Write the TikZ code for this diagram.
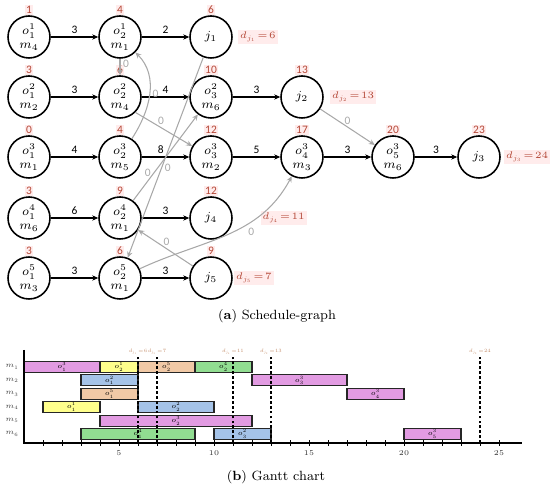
\RequirePackage{fix-cm}
\documentclass[tikz,border=0pt]{standalone}
\usepackage{amsmath}
\usepackage{fontspec}
\usepackage{tikz}
\usetikzlibrary{arrows.meta, positioning, calc}
\newfontfamily\calfont{Carlito}
\definecolor{redtime}{RGB}{180,72,55}
\definecolor{redback}{RGB}{255,236,236}
\definecolor{arcgray}{RGB}{168,168,168}
\definecolor{dtan}{RGB}{195,140,105}
\definecolor{jobA}{RGB}{255,255,140}
\definecolor{jobB}{RGB}{165,195,232}
\definecolor{jobC}{RGB}{226,155,226}
\definecolor{jobD}{RGB}{145,221,145}
\definecolor{jobE}{RGB}{241,201,166}
\newcommand{\ganttbar}[5]{%
    \draw[barbox, fill=#4] (#2, 6.26-#1) rectangle node[barlabel] {#5} (#3, 7.08-#1);
}
\newcommand{\due}[2]{$\thickmuskip=2mu d_{j_{#1}} = #2$}
\newcommand{\duetiny}[2]{$\thickmuskip=1mu d_{j_{#1}} = #2$}
\tikzset{
    opnode/.style={circle, draw, line width=0.9pt, minimum size=0.84cm, inner sep=0pt, align=center, font=\fontsize{7}{7.6}\selectfont},
    stime/.style={font=\calfont\fontsize{6.5}{7}\selectfont, text=redtime, fill=redback, inner sep=0.6pt},
    conj/.style={-{Stealth[length=3.4pt, width=3pt]}, line width=0.8pt},
    disj/.style={-{Stealth[length=3.4pt, width=3pt]}, draw=arcgray, line width=0.6pt},
    wlabel/.style={font=\calfont\fontsize{6.5}{7}\selectfont, inner sep=1.5pt},
    zlabel/.style={wlabel, text=arcgray},
    dlabel/.style={font=\fontsize{5.5}{6}\selectfont, text=redtime, fill=redback, inner sep=1pt},
    barbox/.style={draw=black!85, line width=0.6pt},
    barlabel/.style={font=\fontsize{4}{4}\selectfont, inner sep=0pt},
    deadline/.style={dash pattern=on 1.6pt off 1.2pt, line width=0.6pt},
    dsmall/.style={font=\fontsize{2.8}{3}\selectfont, text=dtan, inner sep=0pt},
    mlabel/.style={font=\fontsize{4.2}{4.5}\selectfont, text=black!75, inner sep=0pt},
    ticklabel/.style={font=\fontsize{4.2}{4.5}\selectfont, text=black!80, inner sep=0pt},
    caption/.style={font=\fontsize{7.6}{9}\selectfont},
}

\begin{document}
\begin{tikzpicture}
    \useasboundingbox (0,0) rectangle (11,-9.74);

    \node[opnode, label={[stime]above:1}] (o11) at (0.58, -0.74) {$o_1^1$\\$m_4$};
    \node[opnode, label={[stime]above:4}] (o21) at (2.40, -0.74) {$o_2^1$\\$m_1$};
    \node[opnode, label={[stime]above:6}] (j1) at (4.22, -0.74) {$j_1$};

    \node[opnode, label={[stime]above:3}] (o12) at (0.58, -1.94) {$o_1^2$\\$m_2$};
    \node[opnode, label={[stime]above:6}] (o22) at (2.40, -1.94) {$o_2^2$\\$m_4$};
    \node[opnode, label={[stime]above:10}] (o32) at (4.22, -1.94) {$o_3^2$\\$m_6$};
    \node[opnode, label={[stime]above:13}] (j2) at (6.04, -1.94) {$j_2$};

    \node[opnode, label={[stime]above:0}] (o13) at (0.58, -3.14) {$o_1^3$\\$m_1$};
    \node[opnode, label={[stime]above:4}] (o23) at (2.40, -3.14) {$o_2^3$\\$m_5$};
    \node[opnode, label={[stime]above:12}] (o33) at (4.22, -3.14) {$o_3^3$\\$m_2$};
    \node[opnode, label={[stime]above:17}] (o43) at (6.04, -3.14) {$o_4^3$\\$m_3$};
    \node[opnode, label={[stime]above:20}] (o53) at (7.86, -3.14) {$o_5^3$\\$m_6$};
    \node[opnode, label={[stime]above:23}] (j3) at (9.58, -3.14) {$j_3$};

    \node[opnode, label={[stime]above:3}] (o14) at (0.58, -4.36) {$o_1^4$\\$m_6$};
    \node[opnode, label={[stime]above:9}] (o24) at (2.40, -4.36) {$o_2^4$\\$m_1$};
    \node[opnode, label={[stime]above:12}] (j4) at (4.22, -4.36) {$j_4$};

    \node[opnode, label={[stime]above:3}] (o15) at (0.58, -5.56) {$o_1^5$\\$m_3$};
    \node[opnode, label={[stime]above:6}] (o25) at (2.40, -5.56) {$o_2^5$\\$m_1$};
    \node[opnode, label={[stime]above:9}] (j5) at (4.22, -5.56) {$j_5$};

    \node[dlabel, right=0.1cm of j1] (dj1) {\due{1}{6}};
    \node[dlabel, right=0.12cm of j2] (dj2) {\due{2}{13}};
    \node[dlabel, right=0.06cm of j3] (dj3) {\due{3}{24}};
    \node[dlabel, right=0.55cm of j4] (dj4) {\due{4}{11}};
    \node[dlabel, right=0.02cm of j5] (dj5) {\due{5}{7}};

    \draw (o11) edge[conj] node[wlabel, above] {3} (o21);
    \draw (o21) edge[conj] node[wlabel, above] {2} (j1);
    \draw (o12) edge[conj] node[wlabel, above] {3} (o22);
    \draw (o22) edge[conj] node[wlabel, above] {4} (o32);
    \draw (o32) edge[conj] node[wlabel, above] {3} (j2);
    \draw (o13) edge[conj] node[wlabel, above] {4} (o23);
    \draw (o23) edge[conj] node[wlabel, above, pos=0.4] {8} (o33);
    \draw (o33) edge[conj] node[wlabel, above] {5} (o43);
    \draw (o43) edge[conj] node[wlabel, above] {3} (o53);
    \draw (o53) edge[conj] node[wlabel, above] {3} (j3);
    \draw (o14) edge[conj] node[wlabel, above] {6} (o24);
    \draw (o24) edge[conj] node[wlabel, above] {3} (j4);
    \draw (o15) edge[conj] node[wlabel, above] {3} (o25);
    \draw (o25) edge[conj] node[wlabel, above] {3} (j5);

    \draw (o21) edge[disj] node[zlabel, right, pos=0.3] {0} (o22);
    \draw (o23) edge[disj, out=57, in=-45] node[zlabel, right, pos=0.5] {0} (o21);
    \draw (o22.-45) edge[disj] node[zlabel, above, pos=0.45] {0} (o33.150);
    \draw (j1) edge[disj] node[zlabel, right, pos=0.55] {0} (o25);
    \draw (o24) edge[disj] node[zlabel, left, pos=0.32] {0} (o32);
    \draw (j5) edge[disj] node[zlabel, above, pos=0.48] {0} (o24);
    \draw (o25) edge[disj, out=25, in=-118] node[zlabel, below right, pos=0.62] {0} (o43);
    \draw (j2) edge[disj] node[zlabel, above, pos=0.5, inner sep=0.8pt] {0} (o53);

    \node[caption] (capa) at (5.54, -6.32) {(\textbf{a}) Schedule-graph};

    \begin{scope}[shift={(0.48,-8.86)}, x=0.38cm, y=0.268cm]
        \ganttbar{1}{0}{4}{jobC}{$o_1^3$}
        \ganttbar{1}{4}{6}{jobA}{$o_2^1$}
        \ganttbar{1}{6}{9}{jobE}{$o_2^5$}
        \ganttbar{1}{9}{12}{jobD}{$o_2^4$}
        \ganttbar{2}{3}{6}{jobB}{$o_1^2$}
        \ganttbar{2}{12}{17}{jobC}{$o_3^3$}
        \ganttbar{3}{3}{6}{jobE}{$o_1^5$}
        \ganttbar{3}{17}{20}{jobC}{$o_4^3$}
        \ganttbar{4}{1}{4}{jobA}{$o_1^1$}
        \ganttbar{4}{6}{10}{jobB}{$o_2^2$}
        \ganttbar{5}{4}{12}{jobC}{$o_2^3$}
        \ganttbar{6}{3}{9}{jobD}{$o_1^4$}
        \ganttbar{6}{10}{13}{jobB}{$o_3^2$}
        \ganttbar{6}{20}{23}{jobC}{$o_5^3$}

        \foreach \t/\j in {6/1, 7/5, 11/4, 13/2, 24/3} {
            \draw[deadline] (\t, 0) -- (\t, 6.42);
            \node[dsmall] at (\t, 6.79) {\duetiny{\j}{\t}};
        }
        \draw[line width=0.9pt] (0, 6.94) -- (0, 0) -- (26.2, 0);
        \foreach \t in {1,...,25}
            \draw[line width=0.5pt] (\t, -0.22) -- (\t, 0.22);
        \foreach \t in {5,10,...,25}
            \node[ticklabel] at (\t, -0.78) {\t};
        \foreach \k in {1,...,6}
            \node[mlabel] at (-0.63, 6.67-\k) {$m_{\k}$};
    \end{scope}

    \node[caption] (capb) at (5.52, -9.54) {(\textbf{b}) Gantt chart};
\end{tikzpicture}
\end{document}
